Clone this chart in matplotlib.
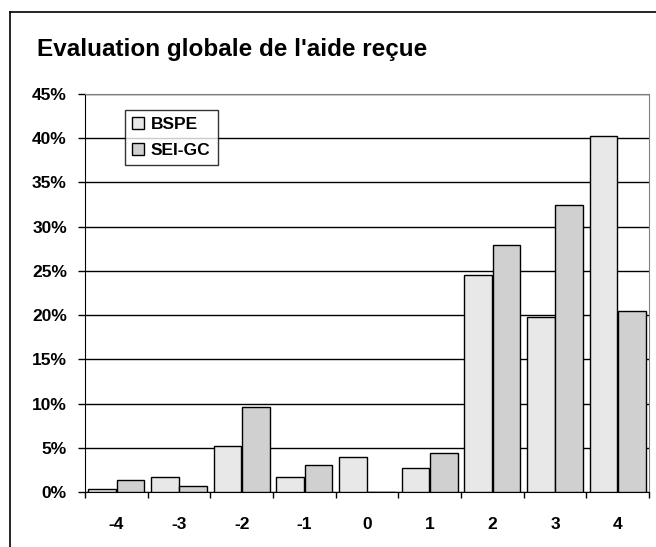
import matplotlib.pyplot as plt
import numpy as np
from matplotlib.lines import Line2D

# data
categories = ["-4", "-3", "-2", "-1", "0", "1", "2", "3", "4"]
bspe = [0.3, 1.7, 5.2, 1.7, 4.0, 2.7, 24.5, 19.8, 40.2]
sei_gc = [1.4, 0.7, 9.6, 3.0, 0.0, 4.4, 27.9, 32.4, 20.5]
series_names = ["BSPE", "SEI-GC"]
yticks = [0, 5, 10, 15, 20, 25, 30, 35, 40, 45]

plt.rcParams['font.family'] = ['Liberation Sans', 'DejaVu Sans']

fig = plt.figure(figsize=(6.56, 5.47), dpi=100)
ax = fig.add_axes([85 / 656, 1 - 492 / 547, 564 / 656, 398 / 547])

x = np.arange(len(categories))
w = 0.44
ax.bar(x - 0.225, bspe, w, color="#e8e8e8", edgecolor="black", linewidth=1, label=series_names[0], zorder=3)
ax.bar(x + 0.225, sei_gc, w, color="#d0d0d0", edgecolor="black", linewidth=1, label=series_names[1], zorder=3)

ax.set_xlim(-0.5, len(categories) - 0.5)
ax.set_ylim(0, 45)
ax.set_yticks(yticks)
ax.set_yticklabels([f"{v}%" for v in yticks], fontsize=12.5, fontweight="bold")
ax.set_xticks(x)
ax.set_xticklabels(categories, fontsize=12.5, fontweight="bold")
ax.set_xticks(np.arange(len(categories) + 1) - 0.5, minor=True)
ax.tick_params(axis="x", which="major", length=0, pad=18)
ax.tick_params(axis="x", which="minor", length=4.5, width=1, direction="out")
ax.tick_params(axis="y", length=5, width=1, pad=8)
ax.yaxis.grid(True, color="black", linewidth=1, zorder=0)

for s in ["top", "right"]:
    ax.spines[s].set_color("#808080")
for s in ["left", "bottom"]:
    ax.spines[s].set_color("black")

leg = ax.legend(loc="upper left", bbox_to_anchor=(40 / 564, 1 - 16 / 398), prop={"weight": "bold", "size": 12.5},
                frameon=True, fancybox=False, edgecolor="black", handlelength=0.7, handleheight=0.7,
                handletextpad=0.4, borderpad=0.4, labelspacing=0.6, borderaxespad=0)
leg.get_frame().set_linewidth(1)

fig.text(37 / 656, 1 - 56 / 547, "Evaluation globale de l'aide reçue", fontsize=17.5, fontweight="bold")

# outer chart frame (left and top edges)
fig.add_artist(Line2D([10 / 656, 10 / 656], [0, 1 - 12 / 547], color="black", linewidth=1.2, transform=fig.transFigure))
fig.add_artist(Line2D([10 / 656, 1], [1 - 12 / 547, 1 - 12 / 547], color="black", linewidth=1.2, transform=fig.transFigure))

fig.savefig("out.png", dpi=100)
